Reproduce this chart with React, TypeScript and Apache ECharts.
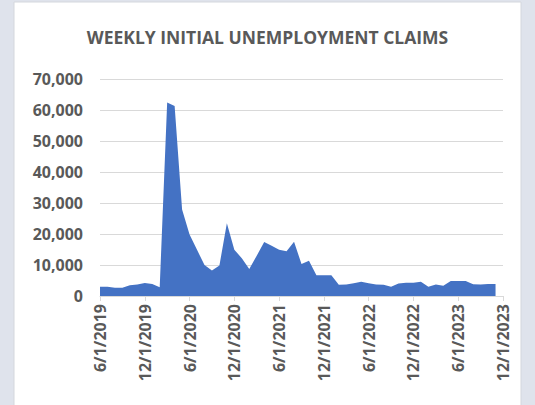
import React, { useEffect, useRef } from "react";
import * as echarts from "echarts";

const title = "WEEKLY INITIAL UNEMPLOYMENT CLAIMS";

// Monthly points, 6/1/2019 .. 12/1/2023 (last category has no value)
const startYear = 2019;
const startMonth = 6;
const monthCount = 55;
const categories: string[] = [];
for (let i = 0; i < monthCount; i++) {
  const m0 = startMonth - 1 + i;
  const y = startYear + Math.floor(m0 / 12);
  const m = (m0 % 12) + 1;
  categories.push(`${m}/1/${y}`);
}

const claims: (number | null)[] = [
  3000, 3000, 2700, 2700, 3500, 3700, 4200, 3900, 2800, 62400,
  61300, 27900, 19800, 14900, 10000, 8200, 9800, 23500, 14900, 12200,
  8700, 13000, 17400, 16200, 14900, 14400, 17500, 10300, 11400, 6700,
  6700, 6700, 3600, 3700, 4100, 4600, 4100, 3700, 3600, 3000,
  4000, 4300, 4300, 4600, 3000, 3700, 3300, 4800, 4800, 4800,
  3800, 3700, 3900, 3900, null,
];

const yMax = 70000;
const yInterval = 10000;

export default function App() {
  const ref = useRef<HTMLDivElement>(null);
  useEffect(() => {
    if (!ref.current) return;
    const chart = echarts.init(ref.current, null, { renderer: "svg" });
    const font = "'Open Sans', 'Liberation Sans', sans-serif";
    chart.setOption({
      animation: false,
      backgroundColor: "#dfe3ec",
      graphic: [
        {
          type: "rect",
          z: -10,
          shape: { x: 14, y: 2, width: 507, height: 420 },
          style: { fill: "#ffffff", stroke: "#d4d7dd", lineWidth: 1 },
        },
      ],
      title: {
        text: title,
        left: "center",
        top: 23,
        textStyle: {
          fontFamily: font,
          fontSize: 17.5,
          fontWeight: "bold",
          color: "#595959",
        },
      },
      grid: { left: 100, right: 32, top: 79, bottom: 109, containLabel: false },
      xAxis: {
        type: "category",
        data: categories,
        boundaryGap: false,
        axisLine: { lineStyle: { color: "#d9d9d9", width: 1 } },
        axisTick: { show: true, interval: 5, length: 5, lineStyle: { color: "#d9d9d9" } },
        axisLabel: {
          interval: 5,
          rotate: 90,
          margin: 8,
          fontFamily: font,
          fontSize: 16,
          fontWeight: "bold",
          color: "#595959",
        },
        splitLine: { show: false },
      },
      yAxis: {
        type: "value",
        min: 0,
        max: yMax,
        interval: yInterval,
        axisLine: { show: false },
        axisTick: { show: false },
        axisLabel: {
          margin: 17,
          fontFamily: font,
          fontSize: 16,
          fontWeight: "bold",
          color: "#595959",
          formatter: (v: number) => v.toLocaleString("en-US"),
        },
        splitLine: { lineStyle: { color: "#d9d9d9", width: 1 } },
      },
      series: [
        {
          type: "line",
          data: claims,
          symbol: "none",
          lineStyle: { width: 0 },
          areaStyle: { color: "#4472c4", opacity: 1 },
          itemStyle: { color: "#4472c4" },
        },
      ],
    });
    return () => chart.dispose();
  }, []);
  return (
    <div
      ref={ref}
      style={{ position: "fixed", left: 0, top: 0, width: 535, height: 405 }}
    />
  );
}
